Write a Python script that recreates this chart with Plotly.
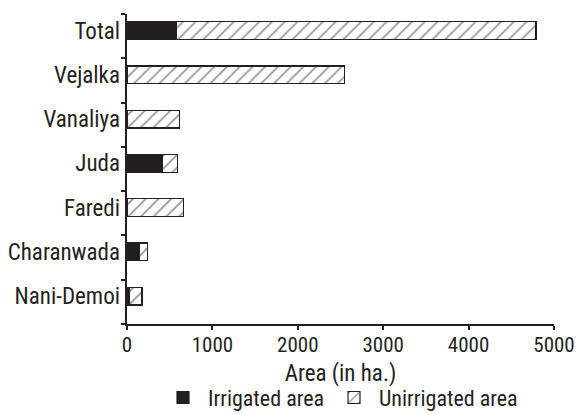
import plotly.graph_objects as go

categories = ["Total", "Vejalka", "Vanaliya", "Juda", "Faredi", "Charanwada", "Nani-Demoi"]
irrigated = [575, 0, 0, 415, 0, 145, 30]
unirrigated = [4215, 2550, 612, 172, 660, 93, 145]
x_ticks = [0, 1000, 2000, 3000, 4000, 5000]

FONT = "Liberation Sans Narrow, Arial Narrow, Roboto Condensed, Liberation Sans, sans-serif"
INK = "#231f20"

fig = go.Figure()
fig.add_trace(go.Bar(
    y=categories, x=irrigated, orientation="h", name="Irrigated area",
    width=0.4, marker=dict(color=INK, line=dict(color=INK, width=1.2)),
))
fig.add_trace(go.Bar(
    y=categories, x=unirrigated, orientation="h", name="Unirrigated area",
    width=0.4,
    marker=dict(color="white", line=dict(color=INK, width=1.2),
                pattern=dict(shape="/", size=9, solidity=0.2, fgcolor="#333333", bgcolor="white")),
))
# helper trace so the boundary-tick axis is drawn
fig.add_trace(go.Scatter(x=[None], y=[None], yaxis="y2", showlegend=False, hoverinfo="skip"))

fig.update_layout(
    width=581, height=414,
    margin=dict(l=127, r=27, t=14, b=90, autoexpand=False),
    paper_bgcolor="white", plot_bgcolor="white",
    barmode="stack", bargap=0.6,
    font=dict(family=FONT, size=23, color=INK),
    showlegend=True,
    legend=dict(orientation="h", x=0.5, xanchor="center", y=-0.17, yanchor="top",
                font=dict(size=22), itemwidth=40, traceorder="normal"),
    xaxis=dict(range=[0, 5000], tickvals=x_ticks, ticks="outside", ticklen=4, tickwidth=1.5,
               tickcolor=INK, showline=True, linecolor=INK, linewidth=1.5, showgrid=False,
               zeroline=False, tickfont=dict(size=21), automargin=False, ticklabelstandoff=-3,
               title=dict(text="Area (in ha.)", font=dict(size=23), standoff=9)),
    yaxis=dict(type="category", categoryarray=categories, categoryorder="array",
               range=[6.627, -0.373], ticks="", showline=False, showgrid=False,
               zeroline=False, tickfont=dict(size=23), ticklabelstandoff=6, automargin=False),
    yaxis2=dict(overlaying="y", side="left", range=[6.5, -0.5],
                tickvals=[-0.5, 0.5, 1.5, 2.5, 3.5, 4.5, 5.5, 6.5],
                ticks="outside", ticklen=4, tickwidth=1.5, tickcolor=INK,
                showticklabels=False, showline=True, linecolor=INK, linewidth=1.5,
                showgrid=False, zeroline=False, automargin=False),
)

fig.write_html("out.html", config={"displayModeBar": False},
               post_script="document.body.style.margin='0';document.body.style.padding='0';")
